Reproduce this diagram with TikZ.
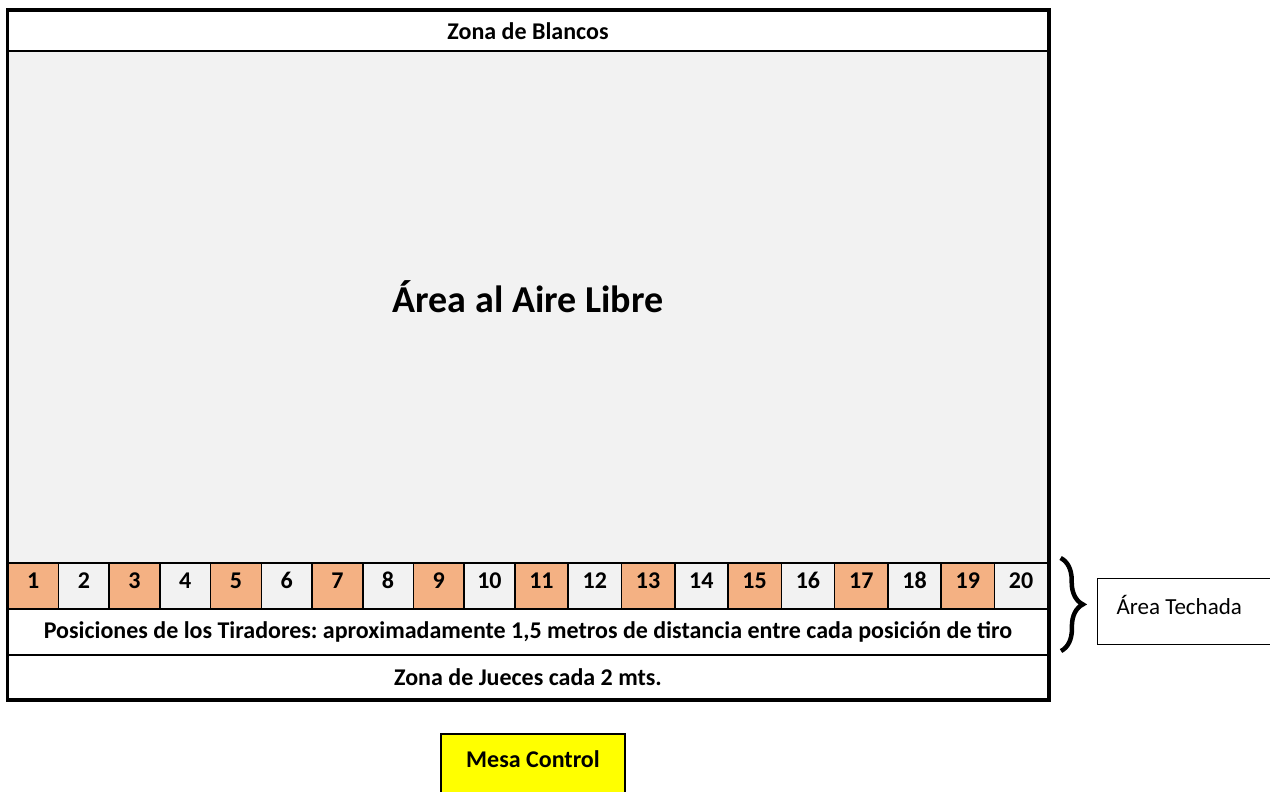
\documentclass[tikz,border=0pt]{standalone}
\usepackage{fontspec}
\setmainfont{Carlito}
\usetikzlibrary{calc, decorations.pathreplacing}

\definecolor{tiro}{HTML}{F4B183}
\definecolor{campo}{HTML}{F2F2F2}
\definecolor{mesa}{HTML}{FFFF00}
\frenchspacing

\tikzset{
  zona/.style={draw, line width=2pt, inner sep=0pt, anchor=north west, minimum width=1040pt,
    font=\bfseries\fontsize{24}{28}\selectfont},
  puesto/.style={draw, line width=1.6pt, inner sep=0pt, anchor=north west, minimum height=46pt,
    text height=17pt, text depth=11pt, font=\bfseries\fontsize{24}{28}\selectfont},
}

\begin{document}
\begin{tikzpicture}[x=1pt,y=-1pt]
    \useasboundingbox (0,0) rectangle (1270,792);
    \node[zona, minimum height=40pt] (blancos) at (7,10) {Zona de Blancos};
    \node[zona, fill=campo, minimum height=512pt, text height=26pt, text depth=16pt,
        font=\bfseries\fontsize{38}{44}\selectfont] (libre) at (7,50) {Área al Aire Libre};
    % shooting positions
    \foreach \i in {1,...,20} {
        \pgfmathsetmacro{\xa}{\i<11 ? 7+(\i-1)*50.7 : 514+(\i-11)*53.3}
        \pgfmathsetmacro{\w}{\i<11 ? 50.7 : 53.3}
        \pgfmathtruncatemacro{\impar}{mod(\i,2)}
        \ifnum\impar=1
            \node[puesto, fill=tiro, minimum width=\w pt] (p\i) at (\xa,562) {\i};
        \else
            \node[puesto, fill=campo, minimum width=\w pt] (p\i) at (\xa,562) {\i};
        \fi
    }
    \node[zona, minimum height=46pt] (posiciones) at (7,608) {Posiciones de los Tiradores: aproximadamente 1,5 metros de distancia entre cada posición de tiro};
    \node[zona, minimum height=44pt] (jueces) at (7,654) {Zona de Jueces cada 2 mts.};
    \draw[line width=3pt] (blancos.north west) rectangle (jueces.south east);
    % covered area
    \coordinate (techoA) at ($(p20.north east)+(12,-4)$);
    \coordinate (techoB) at ($(posiciones.south east)+(12,-5)$);
    \draw[line width=4.5pt, decorate, decoration={brace, amplitude=22pt}] (techoA) -- (techoB);
    \node[draw, line width=1.2pt, anchor=north west, minimum height=66pt, text width=160pt, inner xsep=19pt,
        text depth=14pt, align=flush left, font=\fontsize{23}{27}\selectfont] (techada) at (1097,578) {Área Techada};
    \node[draw, line width=2pt, fill=mesa, anchor=north, minimum width=184pt, inner ysep=11pt,
        text height=22pt, text depth=30pt, font=\bfseries\fontsize{24}{28}\selectfont] (control) at (533,733) {Mesa Control};
\end{tikzpicture}
\end{document}
